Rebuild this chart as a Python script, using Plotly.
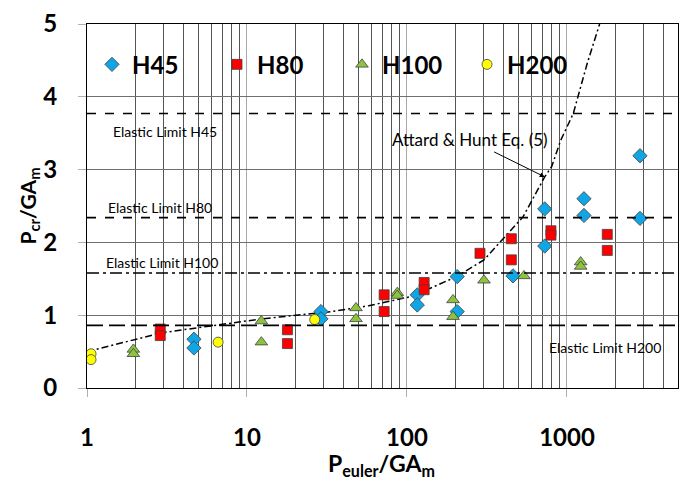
import numpy as np
import plotly.graph_objects as go

# ---- data ----
h45_x = [4.66, 4.66, 29, 29, 116, 116, 206, 206, 460, 726, 726, 1277, 1277, 2860, 2860]
h45_y = [0.67, 0.55, 1.05, 0.95, 1.28, 1.14, 1.53, 1.05, 1.54, 2.46, 1.95, 2.60, 2.37, 3.19, 2.33]

h80_x = [2.87, 2.87, 17.9, 17.9, 72, 72, 128, 128, 286, 449, 449, 794, 794, 1786, 1786]
h80_y = [0.81, 0.72, 0.80, 0.61, 1.28, 1.05, 1.45, 1.35, 1.85, 2.05, 1.76, 2.16, 2.10, 2.11, 1.89]

h100_x = [1.95, 1.95, 12.3, 12.3, 48, 48, 87, 87, 194, 194, 303, 538, 1218, 1218]
h100_y = [0.53, 0.47, 0.92, 0.63, 1.10, 0.95, 1.31, 1.27, 1.21, 0.98, 1.48, 1.54, 1.73, 1.67]

h200_x = [1.06, 1.06, 6.6, 26.5]
h200_y = [0.47, 0.39, 0.63, 0.94]

curve_x = [1, 1.13, 2.96, 12.4, 34, 57.7, 108, 204, 303, 531, 726, 802, 913, 1095, 1339, 1600]
curve_y = [0.50, 0.53, 0.76, 0.95, 1.05, 1.13, 1.26, 1.53, 1.76, 2.35, 2.90, 3.04, 3.40, 3.77, 4.46, 5.00]

elastic_names = ["Elastic Limit H45", "Elastic Limit H80", "Elastic Limit H100", "Elastic Limit H200"]
elastic_values = [3.77, 2.34, 1.58, 0.86]

x_ticks = [1, 10, 100, 1000]
y_ticks = [0, 1, 2, 3, 4, 5]

# ---- figure ----
FONT = "Lato"
fig = go.Figure()

series = [
    ("H45", h45_x, h45_y, "diamond", "#10A6E6", 11),
    ("H80", h80_x, h80_y, "square", "#FF0000", 10),
    ("H100", h100_x, h100_y, "triangle-up", "#8CC43F", 11),
    ("H200", h200_x, h200_y, "circle", "#FFFF00", 10),
]

fig.add_trace(go.Scatter(
    x=curve_x, y=curve_y, mode="lines", showlegend=False,
    line=dict(color="black", width=1.5, dash="7px,3px,2px,3px"),
    hoverinfo="skip"))

for name, xs, ys, sym, col, sz in series:
    fig.add_trace(go.Scatter(
        x=xs, y=ys, mode="markers", name=name,
        marker=dict(symbol=sym, color=col, size=sz,
                    line=dict(color="#404040", width=0.8))))

dashes = ["dash", "dash", "12px,4px,3px,4px", "16px,6px"]
for val, d in zip(elastic_values, dashes):
    fig.add_shape(type="line", xref="paper", x0=0, x1=1, yref="y", y0=val, y1=val,
                  line=dict(color="black", width=1.6, dash=d), layer="above")

# elastic limit labels (position in px converted to paper coords)
L, R = 87, 679
def px2paper(px):
    return (px - L) / (R - L)

label_pos = [(111, 3.53), (106, 2.48), (104, 1.72), (548, 0.56)]
for name, (px, yv) in zip(elastic_names, label_pos):
    fig.add_annotation(text=name, xref="paper", x=px2paper(px), xanchor="left",
                       yref="y", y=yv, yanchor="middle", showarrow=False,
                       font=dict(family=FONT, size=14, color="black"))

# curve label with arrow
fig.add_annotation(text="Attard & Hunt Eq. (5)", x=np.log10(curve_x[10]), y=curve_y[10],
                   xref="x", yref="y", ax=-75, ay=-37, showarrow=True,
                   arrowhead=2, arrowsize=1, arrowwidth=1, arrowcolor="black",
                   font=dict(family=FONT, size=17, color="black"))

# axis titles
fig.add_annotation(text="<b>P<sub>euler</sub>/GA<sub>m</sub></b>", xref="paper", yref="paper",
                   x=px2paper(382), y=-(467 - 388) / 375, xanchor="center", yanchor="middle",
                   showarrow=False, font=dict(family=FONT, size=23, color="black"))
fig.add_annotation(text="<b>P<sub>cr</sub>/GA<sub>m</sub></b>", xref="paper", yref="paper",
                   x=px2paper(29), y=(388 - 201) / 375, xanchor="center", yanchor="middle",
                   textangle=-90, showarrow=False, font=dict(family=FONT, size=21, color="black"))

fig.update_layout(
    width=687, height=484,
    margin=dict(l=87, r=8, t=13, b=96),
    paper_bgcolor="white", plot_bgcolor="white",
    font=dict(family=FONT, color="black"),
    legend=dict(orientation="h", x=px2paper(92), xanchor="left", y=(388 - 55) / 375,
                yanchor="middle", bgcolor="rgba(0,0,0,0)", entrywidth=80,
                entrywidthmode="pixels", font=dict(family=FONT, size=24, color="black",
                weight="bold"), itemclick=False),
    xaxis=dict(type="log", range=[0, 3.694], tickvals=x_ticks,
               ticktext=[str(v) for v in x_ticks],
               tickfont=dict(family=FONT, size=24, weight="bold", color="black"),
               ticks="outside", ticklen=8, tickcolor="#B0B0B0", ticklabelstandoff=20,
               ticklabeloverflow="allow",
               showgrid=True, gridcolor="#A8A8A8", gridwidth=1.3,
               minor=dict(dtick="D1", showgrid=True, gridcolor="#555555", gridwidth=1),
               showline=True, linecolor="black", linewidth=1.2, mirror=True, zeroline=False),
    yaxis=dict(range=[0, 5], tickvals=y_ticks, ticktext=[str(v) for v in y_ticks],
               tickfont=dict(family=FONT, size=24, weight="bold", color="black"),
               ticks="outside", ticklen=8, tickcolor="#B0B0B0", ticklabelstandoff=16,
               ticklabeloverflow="allow",
               showgrid=True, gridcolor="#707070", gridwidth=1,
               showline=True, linecolor="black", linewidth=1.2, mirror=True, zeroline=False),
)

fig.write_html("out.html", config={"displayModeBar": False},
               post_script="document.body.style.margin='0px';")
